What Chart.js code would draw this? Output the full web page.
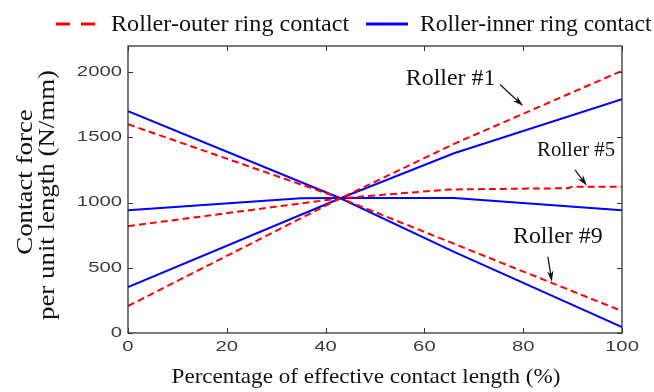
<!DOCTYPE html>
<html>
<head>
<meta charset="utf-8">
<script src="https://cdn.jsdelivr.net/npm/chart.js@4.4.1/dist/chart.umd.min.js"></script>
<style>
  html, body { margin: 0; padding: 0; background: #fff; }
  #wrap { width: 654px; height: 392px; }
</style>
</head>
<body>
<div id="wrap"><canvas id="c" width="654" height="392"></canvas></div>
<script>
// Contact force per unit length along the effective contact length,
// for rollers #1, #5 and #9, on the outer and the inner raceway.
const pctOuter1 = [0, 43, 66, 100];
const forceOuter1 = [207, 1033, 1450, 2010];
const pctInner1 = [0, 43, 66, 100];
const forceInner1 = [352, 1033, 1378, 1792];

const pctOuter5 = [0, 43, 65, 89, 90, 100];
const forceOuter5 = [819, 1033, 1100, 1110, 1122, 1122];
const pctInner5 = [0, 35, 43, 66, 100];
const forceInner5 = [941, 1032, 1035, 1035, 940];

const pctOuter9 = [0, 43, 100];
const forceOuter9 = [1600, 1033, 168];
const pctInner9 = [0, 43, 66, 100];
const forceInner9 = [1700, 1033, 622, 46];

const xTicks = [0, 20, 40, 60, 80, 100];
const yTicks = [0, 500, 1000, 1500, 2000];
const seriesNames = ['Roller-outer ring contact', 'Roller-inner ring contact'];
const xTitle = 'Percentage of effective contact length (%)';
const yTitle = ['Contact force', 'per unit length (N/mm)'];
const rollerNames = ['Roller #1', 'Roller #5', 'Roller #9'];

const RED = 'rgb(255,0,0)';
const BLUE = 'rgb(0,0,255)';
const DASH = [7, 4];

function pairs(xs, ys) {
  return xs.map((x, i) => ({ x: x, y: ys[i] }));
}

function outerSet(xs, ys, label) {
  return { label: label, data: pairs(xs, ys), borderColor: RED, borderWidth: 2,
           borderDash: DASH, pointRadius: 0, tension: 0, fill: false };
}
function innerSet(xs, ys, label) {
  return { label: label, data: pairs(xs, ys), borderColor: BLUE, borderWidth: 2,
           pointRadius: 0, tension: 0, fill: false };
}

// text helper: optional horizontal stretch and rotation
function text(ctx, str, x, y, font, align, baseline, sx, color, rot) {
  ctx.save();
  ctx.translate(x, y);
  if (rot) ctx.rotate(rot);
  ctx.scale(sx || 1, 1);
  ctx.font = font;
  ctx.textAlign = align;
  ctx.textBaseline = baseline;
  ctx.fillStyle = color || '#111';
  ctx.fillText(str, 0, 0);
  ctx.restore();
}

function arrow(ctx, x0, y0, x1, y1) {
  const ang = Math.atan2(y1 - y0, x1 - x0);
  const head = 11, half = 3.2;
  ctx.save();
  ctx.strokeStyle = '#111';
  ctx.fillStyle = '#111';
  ctx.lineWidth = 1.2;
  ctx.beginPath();
  ctx.moveTo(x0, y0);
  ctx.lineTo(x1 - Math.cos(ang) * head * 0.6, y1 - Math.sin(ang) * head * 0.6);
  ctx.stroke();
  ctx.beginPath();
  ctx.moveTo(x1, y1);
  ctx.lineTo(x1 - Math.cos(ang) * head - Math.sin(ang) * half,
             y1 - Math.sin(ang) * head + Math.cos(ang) * half);
  ctx.lineTo(x1 - Math.cos(ang) * head * 0.7, y1 - Math.sin(ang) * head * 0.7);
  ctx.lineTo(x1 - Math.cos(ang) * head + Math.sin(ang) * half,
             y1 - Math.sin(ang) * head - Math.cos(ang) * half);
  ctx.closePath();
  ctx.fill();
  ctx.restore();
}

const SERIF = '"Liberation Serif", "Times New Roman", serif';
const SANS = '"Liberation Sans", Arial, sans-serif';

// roller callouts: label anchor and arrow, in data units
const callouts = [
  { name: rollerNames[0], at: [65.3, 1951], size: 23, from: [75.3, 1905], to: [80, 1740] },
  { name: rollerNames[1], at: [90.7, 1400], size: 20, from: [90.5, 1250], to: [92.9, 1128] },
  { name: rollerNames[2], at: [87, 735], size: 23, from: [85, 585], to: [85.8, 392] }
];

const framePlugin = {
  id: 'frame',
  afterDatasetsDraw(chart) {
    const ctx = chart.ctx;
    const a = chart.chartArea;
    const xs = chart.scales.x, ys = chart.scales.y;
    ctx.save();
    // axes box
    ctx.strokeStyle = '#333';
    ctx.lineWidth = 1.3;
    ctx.strokeRect(a.left, a.top, a.right - a.left, a.bottom - a.top);
    // inward ticks on all four sides
    ctx.lineWidth = 1;
    ctx.beginPath();
    xTicks.forEach(v => {
      const px = Math.round(xs.getPixelForValue(v)) + 0.5;
      ctx.moveTo(px, a.bottom); ctx.lineTo(px, a.bottom - 5);
      ctx.moveTo(px, a.top); ctx.lineTo(px, a.top + 5);
    });
    yTicks.forEach(v => {
      const py = Math.round(ys.getPixelForValue(v)) + 0.5;
      ctx.moveTo(a.left, py); ctx.lineTo(a.left + 5, py);
      ctx.moveTo(a.right, py); ctx.lineTo(a.right - 5, py);
    });
    ctx.stroke();
    ctx.restore();

    // tick labels
    const tickFont = '14px ' + SANS;
    xTicks.forEach(v => {
      text(ctx, String(v), xs.getPixelForValue(v), a.bottom + 7, tickFont, 'center', 'top', 1.45, '#3c3c46');
    });
    yTicks.forEach(v => {
      text(ctx, String(v), a.left - 6, ys.getPixelForValue(v), tickFont, 'right', 'middle', 1.45, '#3c3c46');
    });

    // axis titles
    text(ctx, xTitle, 366, 383, '22px ' + SERIF, 'center', 'alphabetic', 1.05, '#111');
    text(ctx, yTitle[0], 32, 182, '24px ' + SERIF, 'center', 'alphabetic', 1.12, '#111', -Math.PI / 2);
    text(ctx, yTitle[1], 54, 195, '24px ' + SERIF, 'center', 'alphabetic', 1.12, '#111', -Math.PI / 2);

    // roller callouts
    callouts.forEach(c => {
      text(ctx, c.name, xs.getPixelForValue(c.at[0]), ys.getPixelForValue(c.at[1]),
           c.size + 'px ' + SERIF, 'center', 'middle', 1.04, '#111');
      arrow(ctx, xs.getPixelForValue(c.from[0]), ys.getPixelForValue(c.from[1]),
            xs.getPixelForValue(c.to[0]), ys.getPixelForValue(c.to[1]));
    });

    // legend above the axes
    const items = [chart.data.datasets[0], chart.data.datasets[1]];
    const legendPos = [[56, 111, 1.05], [366, 420, 1.02]];
    items.forEach((ds, i) => {
      const [lx, tx, sx] = legendPos[i];
      ctx.save();
      ctx.strokeStyle = ds.borderColor;
      ctx.lineWidth = 3;
      ctx.setLineDash(ds.borderDash ? [14, 11] : []);
      ctx.beginPath();
      ctx.moveTo(lx, 24); ctx.lineTo(lx + 42, 24);
      ctx.stroke();
      ctx.restore();
      text(ctx, ds.label, tx, 31, '23px ' + SERIF, 'left', 'alphabetic', sx, '#111');
    });
  }
};

const chart = new Chart(document.getElementById('c'), {
  type: 'line',
  data: {
    datasets: [
      outerSet(pctOuter1, forceOuter1, seriesNames[0]),
      innerSet(pctInner1, forceInner1, seriesNames[1]),
      outerSet(pctOuter5, forceOuter5, seriesNames[0]),
      innerSet(pctInner5, forceInner5, seriesNames[1]),
      outerSet(pctOuter9, forceOuter9, seriesNames[0]),
      innerSet(pctInner9, forceInner9, seriesNames[1])
    ]
  },
  options: {
    responsive: false,
    animation: false,
    devicePixelRatio: 1,
    layout: { padding: { left: 128, right: 32, top: 46, bottom: 59 } },
    plugins: { legend: { display: false }, tooltip: { enabled: false } },
    scales: {
      x: { type: 'linear', min: 0, max: 100, display: false },
      y: { type: 'linear', min: 0, max: 2200, display: false }
    }
  },
  plugins: [framePlugin]
});
</script>
</body>
</html>
